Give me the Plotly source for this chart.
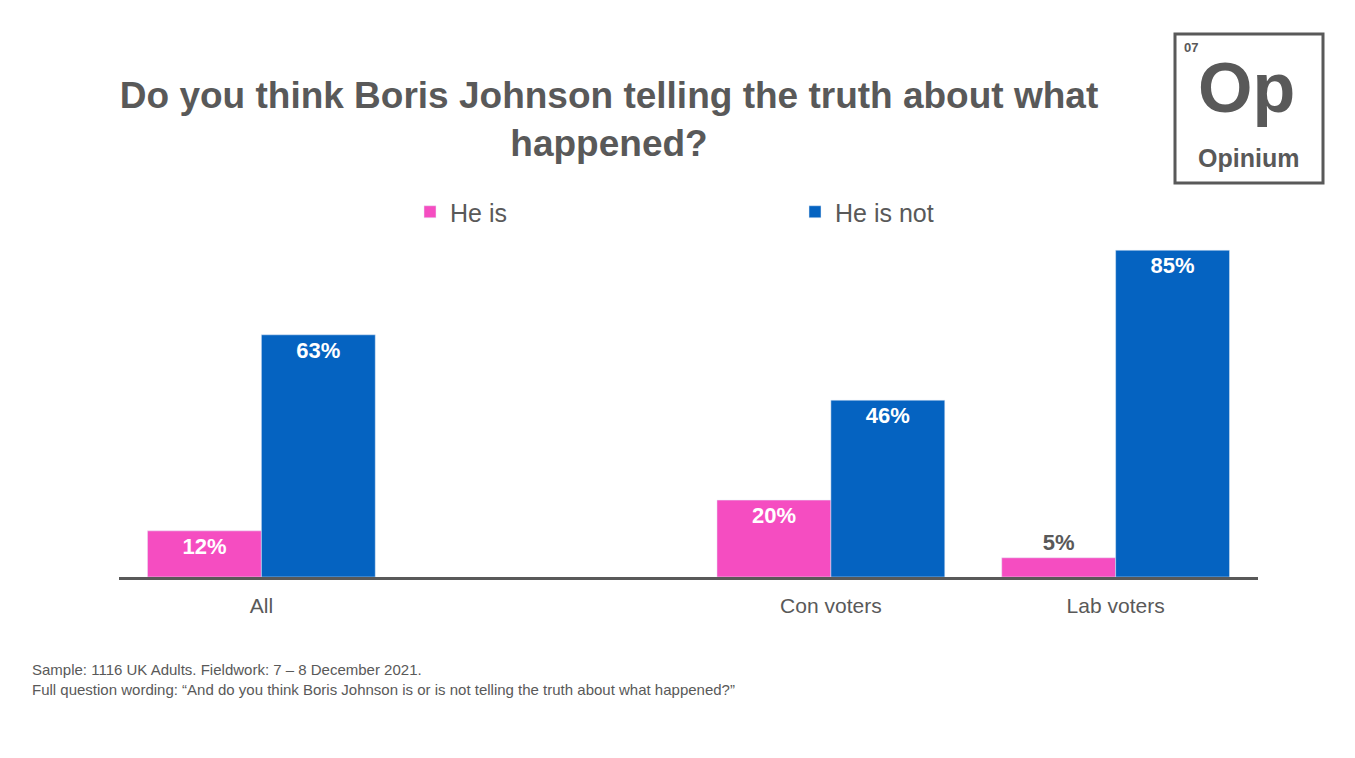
import plotly.graph_objects as go

categories = ["All", " ", "Con voters", "Lab voters"]
he_is = [12, None, 20, 5]
he_is_not = [63, None, 46, 85]
he_is_labels = ["<b>12%</b>", "", "<b>20%</b>", "<b>5%</b>"]
he_is_not_labels = ["<b>63%</b>", "", "<b>46%</b>", "<b>85%</b>"]

grey = "#595959"
L, R, T, B = 111, 105, 223, 189
PW, PH = 1355 - L - R, 758 - T - B
def px(x): return (x - 8 - L) / PW
def py(y): return (758 - B - (y - 8)) / PH

fig = go.Figure()
fig.add_bar(x=categories, y=he_is, name="He is", marker_color="#F54DC1",
            text=he_is_labels, textposition=["inside", "none", "inside", "outside"],
            insidetextanchor="end", textangle=0,
            insidetextfont=dict(color="white", size=22),
            outsidetextfont=dict(color=grey, size=22),
            cliponaxis=False)
fig.add_bar(x=categories, y=he_is_not, name="He is not", marker_color="#0563C1",
            text=he_is_not_labels, textposition="inside", insidetextanchor="end", textangle=0,
            insidetextfont=dict(color="white", size=22))

fig.update_layout(
    width=1355, height=758, paper_bgcolor="white", plot_bgcolor="white",
    margin=dict(l=L, r=R, t=T, b=B),
    barmode="group", bargap=0.2, bargroupgap=0,
    font=dict(family="Arial, Liberation Sans", color=grey),
    title=dict(text="<b>Do you think Boris Johnson telling the truth about what<br>happened?</b>",
               x=(609 - 8) / 1355, xanchor="center", y=1 - (108 - 8) / 758, yanchor="middle",
               font=dict(size=37, color=grey)),
    legend=dict(orientation="h", x=px(410), xanchor="left", y=py(212), yanchor="middle",
                font=dict(size=25, color=grey), entrywidth=340, itemwidth=30),
    showlegend=True,
)
fig.update_xaxes(showline=True, linecolor=grey, linewidth=3, tickfont=dict(size=21, color=grey),
                 ticks="", showgrid=False, ticklabelstandoff=8)
fig.update_yaxes(range=[0, 90], visible=False, showgrid=False)

# Opinium logo
fig.add_shape(type="rect", xref="paper", yref="paper",
              x0=px(1175), x1=px(1323), y0=py(183), y1=py(34), line=dict(color=grey, width=3))
fig.add_annotation(xref="paper", yref="paper", x=px(1182), y=py(47),
                   text="<b>07</b>", showarrow=False, xanchor="left", yanchor="middle",
                   font=dict(size=13, color=grey))
fig.add_annotation(xref="paper", yref="paper", x=px(1246), y=py(88),
                   text="<b>Op</b>", showarrow=False, xanchor="center", yanchor="middle",
                   font=dict(size=70, color=grey))
fig.add_annotation(xref="paper", yref="paper", x=px(1248), y=py(158),
                   text="<b>Opinium</b>", showarrow=False, xanchor="center", yanchor="middle",
                   font=dict(size=25, color=grey))
# footer
fig.add_annotation(xref="paper", yref="paper", x=px(30), y=py(679),
                   text="Sample: 1116 UK Adults. Fieldwork: 7 – 8 December 2021.<br>Full question wording: “And do you think Boris Johnson is or is not telling the truth about what happened?”",
                   showarrow=False, xanchor="left", yanchor="middle", align="left",
                   font=dict(size=15, color=grey))
fig.write_html("out.html")
